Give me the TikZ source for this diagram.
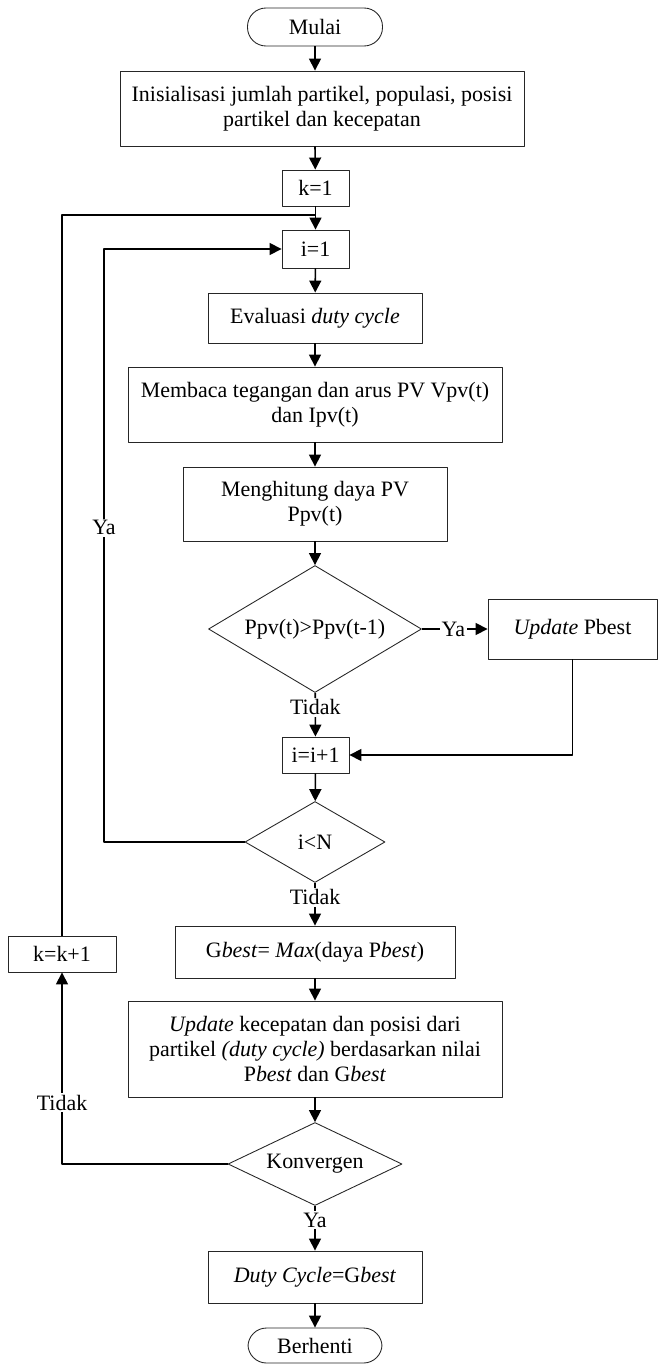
\documentclass[tikz,border=0pt]{standalone}
\usepackage{fontspec}
\setmainfont{Liberation Serif}
\usetikzlibrary{shapes.geometric,arrows.meta}

\begin{document}
\begin{tikzpicture}[line join=round,
		font=\fontsize{12.5}{14}\selectfont,
		kotak/.style={draw=black!85, line width=0.5pt, rectangle, inner sep=0pt, align=center},
		terminal/.style={draw=black!85, line width=0.5pt, rectangle, rounded corners=0.37cm, inner sep=0pt},
		keputusan/.style={draw=black!85, line width=0.5pt, diamond, aspect=2, inner sep=0pt},
		panah/.style={line width=0.9pt, -{Triangle[length=0.24cm, width=0.24cm]}},
		garis/.style={line width=0.9pt},
		nhan/.style={fill=white, inner sep=1pt}]
	% Khung hình (tỉ lệ giống ảnh gốc)
	\useasboundingbox (0,0) rectangle (13.16,-27.28);
	
	% --- Các khối chính (trục giữa x = 6.3) ---
	\node[terminal, minimum width=2.7cm, minimum height=0.76cm] (mulai) at (6.3,-0.54) {Mulai};
	\node[kotak, minimum width=8.08cm, minimum height=1.5cm] (init) at (6.44,-2.17) {Inisialisasi jumlah partikel, populasi, posisi\\partikel dan kecepatan};
	\node[kotak, minimum width=1.34cm, minimum height=0.72cm] (k1) at (6.31,-3.76) {k=1};
	\node[kotak, minimum width=1.34cm, minimum height=0.76cm] (i1) at (6.31,-4.98) {i=1};
	\node[kotak, minimum width=4.28cm, minimum height=1.0cm] (eval) at (6.3,-6.36) {Evaluasi \textit{duty cycle}};
	\node[kotak, minimum width=7.48cm, minimum height=1.5cm] (baca) at (6.3,-8.09) {Membaca tegangan dan arus PV Vpv(t)\\dan Ipv(t)};
	\node[kotak, minimum width=5.28cm, minimum height=1.48cm] (hitung) at (6.3,-10.08) {Menghitung daya PV\\Ppv(t)};
	\node[keputusan, minimum width=4.26cm, minimum height=2.54cm] (cek) at (6.3,-12.58) {Ppv(t)>Ppv(t-1)};
	\node[kotak, minimum width=3.38cm, minimum height=1.2cm] (pbest) at (11.45,-12.58) {\textit{Update} Pbest};
	\node[kotak, minimum width=1.34cm, minimum height=0.72cm] (inc) at (6.31,-15.10) {i=i+1};
	\node[keputusan, minimum width=2.8cm, minimum height=1.62cm] (iN) at (6.3,-16.84) {i<N};
	\node[kotak, minimum width=5.6cm, minimum height=1.04cm] (gbest) at (6.3,-19.04) {G\textit{best}= \textit{Max}(daya P\textit{best})};
	\node[kotak, minimum width=2.16cm, minimum height=0.72cm] (kinc) at (1.24,-19.08) {k=k+1};
	\node[kotak, minimum width=7.48cm, minimum height=1.92cm] (update) at (6.3,-20.98) {\textit{Update} kecepatan dan posisi dari\\partikel \textit{(duty cycle)} berdasarkan nilai\\P\textit{best} dan G\textit{best}};
	\node[keputusan, minimum width=3.48cm, minimum height=1.66cm] (konv) at (6.3,-23.28) {Konvergen};
	\node[kotak, minimum width=4.28cm, minimum height=1.04cm] (duty) at (6.3,-25.54) {\textit{Duty Cycle}=G\textit{best}};
	\node[terminal, minimum width=2.68cm, minimum height=0.70cm] (stop) at (6.3,-26.91) {Berhenti};
	
	% Điểm nối vòng lặp k
	\coordinate (simpulK) at (6.3,-4.30);
	\coordinate (sudutK) at (1.24,-23.28);
	\coordinate (sudutI) at (2.08,-16.84);
	
	% --- Các mũi tên dọc ---
	\draw[panah] (mulai) -- (mulai |- init.north);
	\draw[panah] (mulai |- init.south) -- (k1);
	\draw[panah] (k1) -- (i1);
	\draw[panah] (i1) -- (eval);
	\draw[panah] (eval) -- (baca);
	\draw[panah] (baca) -- (hitung);
	\draw[panah] (hitung) -- (cek);
	\draw[panah] (cek) -- node[nhan, pos=0.33] {Tidak} (inc);
	\draw[panah] (inc) -- (iN);
	\draw[panah] (iN) -- node[nhan, pos=0.33] {Tidak} (gbest);
	\draw[panah] (gbest) -- (update);
	\draw[panah] (update) -- (konv);
	\draw[panah] (konv) -- node[nhan, pos=0.32] {Ya} (duty);
	\draw[panah] (duty) -- (stop);
	
	% --- Nhánh Ya và vòng lặp ---
	\draw[panah] (cek) -- node[nhan, pos=0.48] {Ya} (pbest);
	\draw[panah] (pbest) |- (inc);
	\draw[panah] (iN) -- (sudutI) -- node[nhan, pos=0.53] {Ya} (sudutI |- i1) -- (i1);
	\draw[panah] (konv) -- (sudutK) -- node[nhan, pos=0.32] {Tidak} (kinc);
	\draw[garis] (kinc) |- (simpulK);
	
\end{tikzpicture}
\end{document}
